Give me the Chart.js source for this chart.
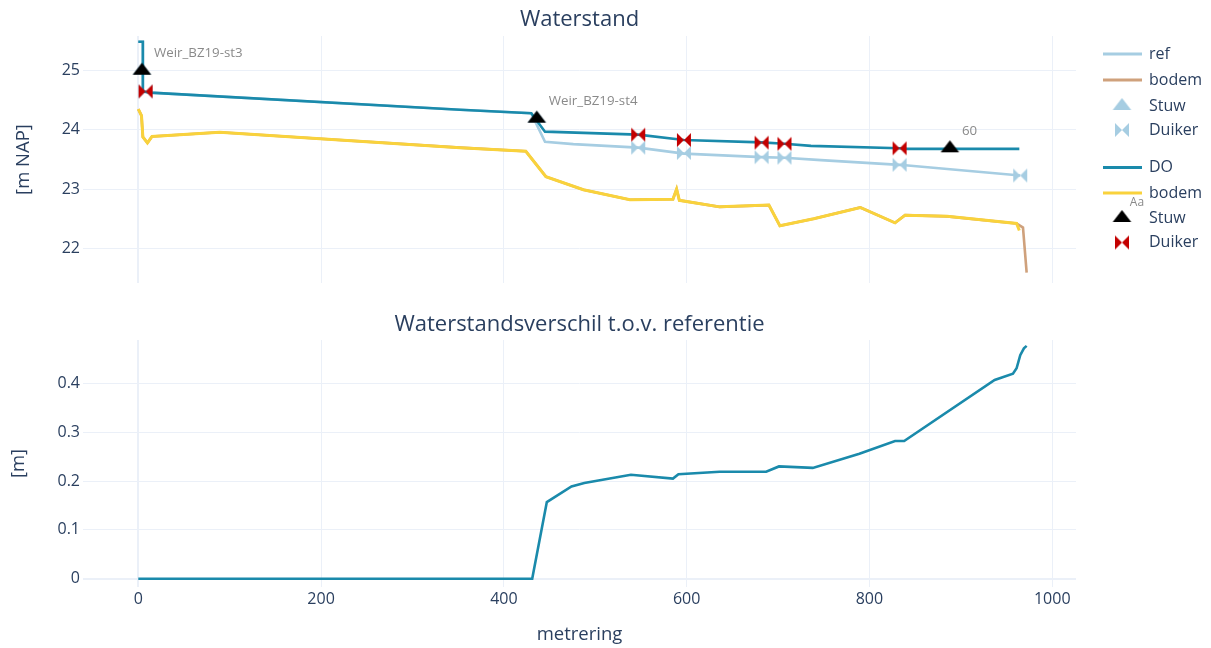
<!DOCTYPE html>
<html>
<head>
<meta charset="utf-8">
<script src="https://cdn.jsdelivr.net/npm/chart.js@4.4.1/dist/chart.umd.min.js"></script>
<style>
  html, body { margin: 0; padding: 0; background: #fff; }
  #wrap { position: relative; width: 1211px; height: 648px; overflow: hidden; }
  canvas { position: absolute; left: 0; }
  #top { top: 0; }
  #bottom { top: 305px; }
</style>
</head>
<body>
<div id="wrap">
  <canvas id="top" width="1211" height="305"></canvas>
  <canvas id="bottom" width="1211" height="343"></canvas>
</div>
<script>
// ---- Data: metrering (x) and levels in m NAP (y) ----
const doX   = [0, 5, 5, 13, 352, 430, 445, 547, 597, 682, 707, 736, 833, 841, 888, 964];
const doY   = [25.49, 25.49, 24.65, 24.63, 24.34, 24.28, 23.97, 23.92, 23.83, 23.79, 23.765, 23.73, 23.69, 23.68, 23.68, 23.68];

const refX  = [0, 5, 5, 13, 352, 430, 445, 476, 547, 597, 682, 707, 747, 833, 965];
const refY  = [25.49, 25.49, 24.65, 24.63, 24.34, 24.28, 23.80, 23.76, 23.70, 23.60, 23.54, 23.53, 23.49, 23.41, 23.23];

const bodemX    = [0, 3.5, 5, 10, 15, 89, 199, 352, 424, 446, 487, 538, 585, 589, 592, 636, 690, 702, 739, 790, 828, 839, 885, 961, 964];
const bodemY    = [24.35, 24.24, 23.88, 23.78, 23.89, 23.96, 23.85, 23.70, 23.64, 23.21, 22.99, 22.82, 22.83, 23.0, 22.81, 22.70, 22.73, 22.38, 22.50, 22.69, 22.43, 22.56, 22.54, 22.42, 22.30];
const bodemRefX = [0, 3.5, 5, 10, 15, 89, 199, 352, 424, 446, 487, 538, 585, 589, 592, 636, 690, 702, 739, 790, 828, 839, 885, 961, 968, 972];
const bodemRefY = [24.35, 24.24, 23.88, 23.78, 23.89, 23.96, 23.85, 23.70, 23.64, 23.21, 22.99, 22.82, 22.83, 23.0, 22.81, 22.70, 22.73, 22.38, 22.50, 22.69, 22.43, 22.56, 22.54, 22.42, 22.35, 21.59];

// Structures: weirs (Stuw) and culverts (Duiker)
const stuwX      = [4, 436, 888];
const stuwY      = [25.0, 24.19, 23.69];
const stuwLabels = ['Weir_BZ19-st3', 'Weir_BZ19-st4', '60'];
const stuwRefX   = [4, 436];
const stuwRefY   = [25.0, 24.19];

const duikerX    = [8, 547, 597, 682, 707, 833];
const duikerY    = [24.65, 23.92, 23.83, 23.785, 23.765, 23.69];
const duikerRefX = [8, 547, 597, 682, 707, 833, 965];
const duikerRefY = [24.65, 23.70, 23.61, 23.54, 23.53, 23.41, 23.23];

// Difference DO minus reference [m]
const diffX = [0, 431, 447, 474, 488, 539, 585, 591, 636, 687, 701, 738, 789, 828, 838, 937, 957, 961, 965, 969, 972];
const diffY = [0, 0, 0.157, 0.189, 0.196, 0.213, 0.205, 0.214, 0.219, 0.219, 0.230, 0.227, 0.256, 0.282, 0.282, 0.407, 0.420, 0.431, 0.458, 0.472, 0.477];

// Axis ticks
const xTicks      = [0, 200, 400, 600, 800, 1000];
const yTicksTop   = [22, 23, 24, 25];
const yTicksBot   = [0, 0.1, 0.2, 0.3, 0.4];

// Legend entries
const legendLabels = ['ref', 'bodem', 'Stuw', 'Duiker', 'DO', 'bodem', 'Stuw', 'Duiker'];

// ---- Styling ----
const C_DO = '#1a8aab';
const C_REF = '#a6cde2';
const C_BODEM = '#f9d23c';
const C_BODEM_REF = '#cfa17c';
const C_DUIKER = '#c30000';
const C_STUW = '#000000';
const C_TEXT = '#2a3f5f';
const C_GRID = '#ebf0f8';
const FONT = "'Open Sans', 'Noto Sans', sans-serif";

const zip = (xs, ys) => xs.map((x, i) => ({ x: x, y: ys[i] }));

// Marker shapes with plotly-like proportions
function triangleImg(color, r) {
  const rt = r * 2 / Math.sqrt(3);
  const w = Math.ceil(2 * rt) + 2, h = Math.ceil(2 * r) + 2;
  const c = document.createElement('canvas');
  c.width = w; c.height = h;
  const g = c.getContext('2d');
  const cx = w / 2, cy = h / 2;
  g.beginPath();
  g.moveTo(cx - rt, cy + r / 2);
  g.lineTo(cx + rt, cy + r / 2);
  g.lineTo(cx, cy - r);
  g.closePath();
  g.fillStyle = color;
  g.fill();
  return c;
}
function bowtieImg(color, r) {
  const w = Math.ceil(2 * r) + 2, h = w;
  const c = document.createElement('canvas');
  c.width = w; c.height = h;
  const g = c.getContext('2d');
  const cx = w / 2, cy = h / 2;
  g.beginPath();
  g.moveTo(cx + r, cy + r);
  g.lineTo(cx - r, cy - r);
  g.lineTo(cx - r, cy + r);
  g.lineTo(cx + r, cy - r);
  g.closePath();
  g.fillStyle = color;
  g.fill();
  return c;
}
const TRI_R = 8, BOW_R = 7;
const triBlack = triangleImg(C_STUW, TRI_R);
const triRef = triangleImg(C_REF, TRI_R);
const bowRed = bowtieImg(C_DUIKER, BOW_R);
const bowRef = bowtieImg(C_REF, BOW_R);

Chart.defaults.font.family = FONT;
Chart.defaults.color = C_TEXT;

const X_MIN = -60.5, X_MAX = 1026;

function lineSet(label, data, color, width) {
  return { type: 'line', label, data, borderColor: color, backgroundColor: color,
           borderWidth: width, pointRadius: 0, pointHoverRadius: 0, fill: false, tension: 0 };
}
function markerSet(label, data, img) {
  return { type: 'scatter', label, data, showLine: false, pointStyle: img,
           pointRadius: 5, pointHoverRadius: 5 };
}

function xScale(showTicks, height) {
  return {
    type: 'linear', min: X_MIN, max: X_MAX,
    afterBuildTicks: s => { s.ticks = xTicks.map(v => ({ value: v })); },
    afterFit: s => { s.height = height; },
    border: { display: false },
    grid: { color: C_GRID, drawTicks: false, lineWidth: c => (c.tick && c.tick.value === 0 ? 2 : 1) },
    ticks: { display: showTicks, padding: 3, font: { size: 16 }, color: C_TEXT, maxRotation: 0,
             callback: v => String(v) }
  };
}
function yScale(min, max, tickVals) {
  return {
    type: 'linear', min, max,
    afterBuildTicks: s => { s.ticks = tickVals.map(v => ({ value: v })); },
    afterFit: s => { s.width = 83; },
    border: { display: false },
    grid: { color: C_GRID, drawTicks: false, lineWidth: c => (c.tick && c.tick.value === 0 ? 2 : 1) },
    ticks: { padding: 3, font: { size: 16 }, color: C_TEXT,
             callback: v => String(Math.round(v * 10) / 10) }
  };
}

function drawText(ctx, str, x, y, size, color, align, rot) {
  ctx.save();
  ctx.font = size + 'px ' + FONT;
  ctx.fillStyle = color;
  ctx.textAlign = align || 'center';
  ctx.textBaseline = 'middle';
  ctx.translate(x, y);
  if (rot) ctx.rotate(rot);
  ctx.fillText(str, 0, 0);
  ctx.restore();
}

// Titles, annotations and legend of the upper panel
const topDecor = {
  id: 'topDecor',
  afterDraw(chart) {
    const ctx = chart.ctx;
    const a = chart.chartArea;
    drawText(ctx, 'Waterstand', (a.left + a.right) / 2, 20, 22, C_TEXT);
    drawText(ctx, '[m NAP]', 24, (a.top + a.bottom) / 2, 18.5, C_TEXT, 'center', -Math.PI / 2);

    const xs = chart.scales.x, ys = chart.scales.y;
    stuwX.forEach((v, i) => {
      const px = xs.getPixelForValue(v), py = ys.getPixelForValue(stuwY[i]);
      drawText(ctx, stuwLabels[i], px + 12, py - 17, 13.3, '#8a8a8a', 'left');
    });

    // legend
    const lx0 = 1103, lx1 = 1142, mx = 1122, tx = 1149;
    const rows = [54, 80, 106, 130, 167.5, 193, 218, 242.5];
    const kinds = [
      ['line', C_REF], ['line', C_BODEM_REF], ['img', triRef], ['img', bowRef],
      ['line', C_DO], ['line', C_BODEM], ['img', triBlack], ['img', bowRed]
    ];
    kinds.forEach((k, i) => {
      const y = rows[i];
      if (k[0] === 'line') {
        ctx.save();
        ctx.strokeStyle = k[1];
        ctx.lineWidth = 3;
        ctx.beginPath();
        ctx.moveTo(lx0, y); ctx.lineTo(lx1, y);
        ctx.stroke();
        ctx.restore();
      } else {
        const img = k[1];
        ctx.drawImage(img, mx - img.width / 2, y - img.height / 2);
      }
      drawText(ctx, legendLabels[i], tx, y, 16, C_TEXT, 'left');
    });
    drawText(ctx, 'Aa', 1137, 203, 12, '#8a8a8a', 'center');
  }
};

// Titles of the lower panel
const bottomDecor = {
  id: 'bottomDecor',
  afterDraw(chart) {
    const ctx = chart.ctx;
    const a = chart.chartArea;
    drawText(ctx, 'Waterstandsverschil t.o.v. referentie', (a.left + a.right) / 2, 20, 22, C_TEXT);
    drawText(ctx, '[m]', 18.5, (a.top + a.bottom) / 2, 18.5, C_TEXT, 'center', -Math.PI / 2);
    drawText(ctx, 'metrering', (a.left + a.right) / 2, 330, 18.5, C_TEXT);
  }
};

const common = {
  responsive: false,
  animation: false,
  devicePixelRatio: 1,
  events: [],
  plugins: { legend: { display: false }, tooltip: { enabled: false }, title: { display: false } }
};

// Upper panel: water levels (first dataset is drawn on top)
new Chart(document.getElementById('top'), {
  type: 'line',
  data: {
    datasets: [
      markerSet('Duiker', zip(duikerX, duikerY), bowRed),
      markerSet('Stuw', zip(stuwX, stuwY), triBlack),
      lineSet('bodem', zip(bodemX, bodemY), C_BODEM, 3),
      lineSet('DO', zip(doX, doY), C_DO, 2.6),
      markerSet('Duiker', zip(duikerRefX, duikerRefY), bowRef),
      markerSet('Stuw', zip(stuwRefX, stuwRefY), triRef),
      lineSet('bodem', zip(bodemRefX, bodemRefY), C_BODEM_REF, 2.6),
      lineSet('ref', zip(refX, refY), C_REF, 2.6)
    ]
  },
  options: Object.assign({}, common, {
    layout: { padding: { left: 0, right: 135, top: 36, bottom: 0 } },
    scales: {
      x: xScale(false, 22),
      y: yScale(21.414, 25.586, yTicksTop)
    }
  }),
  plugins: [topDecor]
});

// Lower panel: difference with the reference
new Chart(document.getElementById('bottom'), {
  type: 'line',
  data: {
    datasets: [
      lineSet('verschil', zip(diffX, diffY), C_DO, 2.6)
    ]
  },
  options: Object.assign({}, common, {
    layout: { padding: { left: 0, right: 135, top: 35, bottom: 0 } },
    scales: {
      x: xScale(true, 61),
      y: yScale(-0.017, 0.489, yTicksBot)
    }
  }),
  plugins: [bottomDecor]
});
</script>
</body>
</html>
